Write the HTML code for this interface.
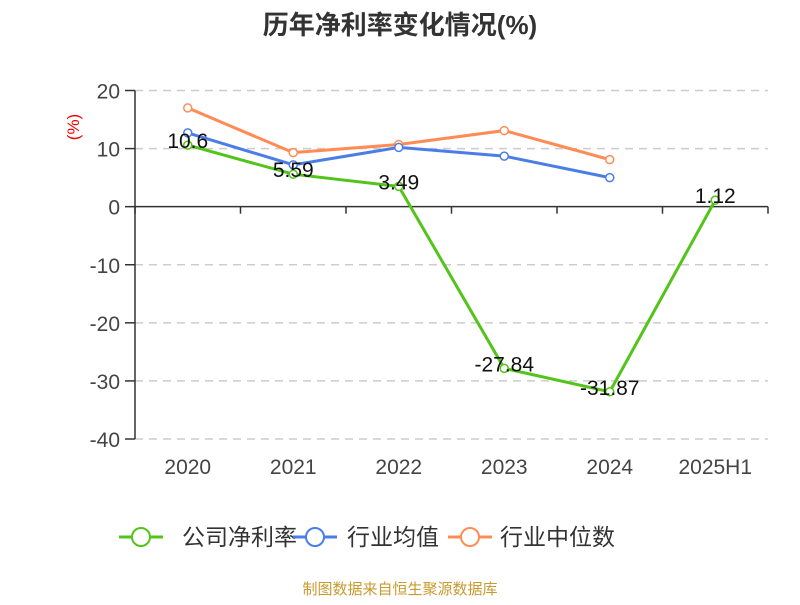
<!DOCTYPE html>
<html><head><meta charset="utf-8"><style>
body{margin:0;background:#fff;font-family:"Liberation Sans","Noto Sans CJK SC",sans-serif;}
</style></head><body>
<svg width="800" height="600" xmlns="http://www.w3.org/2000/svg" font-family="Liberation Sans, Noto Sans CJK SC, sans-serif">
<text x="400" y="34" text-anchor="middle" font-size="26" font-weight="bold" fill="#333">历年净利率变化情况(%)</text>
<text transform="translate(79,127) rotate(-90)" text-anchor="middle" font-size="17" fill="#e00">(%)</text>
<g id="grid"></g><g id="axes"></g><g id="series"></g><g id="labels"></g>
<g id="legend"></g>
<text x="400" y="594" text-anchor="middle" font-size="15" fill="#c99a2e">制图数据来自恒生聚源数据库</text>
<script>
const categories=["2020","2021","2022","2023","2024","2025H1"];
const company=[10.6,5.59,3.49,-27.84,-31.87,1.12];
const industryAvg=[12.7,7.2,10.2,8.7,5.0];
const industryMedian=[17.0,9.3,10.7,13.1,8.1];
const yTicks=[20,10,0,-10,-20,-30,-40];
const seriesNames=["公司净利率","行业均值","行业中位数"];
const colors=["#52c41a","#4a7ee6","#ff8c55"];
const NS="http://www.w3.org/2000/svg";
const L=135,R=768,T=90.5,B=439;
const x=i=>L+(R-L)/categories.length*(i+0.5);
const y=v=>T+(20-v)/60*(B-T);
function mk(tag,attrs,parent,txt){const e=document.createElementNS(NS,tag);for(const k in attrs)e.setAttribute(k,attrs[k]);if(txt!==undefined)e.textContent=txt;document.getElementById(parent).appendChild(e);return e;}
yTicks.forEach(v=>{
  if(v!==0){const g=mk('line',{x1:L,x2:R,y1:y(v),y2:y(v),stroke:'#ccc','stroke-dasharray':'8,6','stroke-width':1.5},'grid');}
  const t=mk('line',{x1:L-10,x2:L,y1:y(v),y2:y(v),stroke:'#333','stroke-width':1.5},'axes');
  const l=mk('text',{x:L-15,y:y(v)+8,'text-anchor':'end','font-size':21,fill:'#444'},'axes',String(v));
});
const ya=mk('line',{x1:L,x2:L,y1:T,y2:B,stroke:'#333','stroke-width':1.5},'axes');
const xa=mk('line',{x1:L,x2:R,y1:y(0),y2:y(0),stroke:'#333','stroke-width':1.5},'axes');
for(let i=0;i<=categories.length;i++){const t=mk('line',{x1:L+(R-L)/categories.length*i,x2:L+(R-L)/categories.length*i,y1:y(0),y2:y(0)+7,stroke:'#333','stroke-width':1.5},'axes');}
categories.forEach((c,i)=>{const t=mk('text',{x:x(i),y:474,'text-anchor':'middle','font-size':21,fill:'#444'},'axes',c);});
function drawSeries(data,color,name){
  const p=mk('polyline',{points:data.map((v,i)=>x(i)+','+y(v)).join(' '),fill:'none',stroke:color,'stroke-width':3},'series');
  
  data.forEach((v,i)=>{const c=mk('circle',{cx:x(i),cy:y(v),r:4,fill:'#fff',stroke:color,'stroke-width':1.5},'series');});
}
drawSeries(industryMedian,colors[2],'industry-median');
drawSeries(industryAvg,colors[1],'industry-avg');
drawSeries(company,colors[0],'company');
company.forEach((v,i)=>{const t=mk('text',{x:x(i),y:y(v)+3,'text-anchor':'middle','font-size':21,fill:'#111'},'labels',String(v));});
const lx=[119,293,448];
const tx=[182,347,500];
seriesNames.forEach((n,i)=>{
  const l=mk('line',{x1:lx[i],x2:lx[i]+44,y1:537,y2:537,stroke:colors[i],'stroke-width':3},'legend');
  const c=mk('circle',{cx:lx[i]+22,cy:537,r:9,fill:'#fff',stroke:colors[i],'stroke-width':2},'legend');
  const t=mk('text',{x:tx[i],y:545,'font-size':23,fill:'#333'},'legend',n);
});
</script>
</svg>
</body></html>
